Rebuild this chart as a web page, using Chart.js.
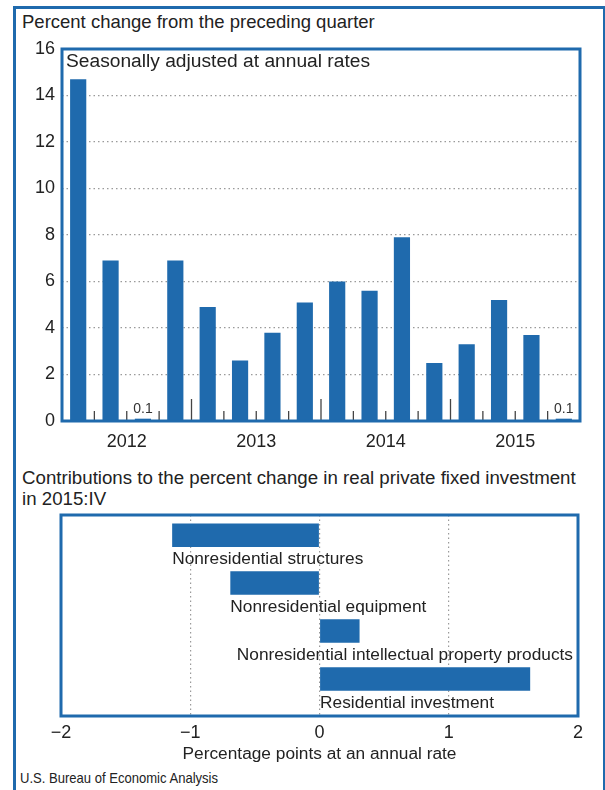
<!DOCTYPE html>
<html>
<head>
<meta charset="utf-8">
<script src="https://cdn.jsdelivr.net/npm/chart.js@4/dist/chart.umd.min.js"></script>
<style>
  html, body { margin: 0; padding: 0; background: #fff; }
  body { width: 605px; height: 790px; position: relative; overflow: hidden;
         font-family: "Liberation Sans", Arial, sans-serif; color: #222; }
  #frame { position: absolute; left: 13px; top: 6px; width: 587px; height: 800px;
           border: 3px solid #1f6aad; border-bottom: none; }
  .txt { position: absolute; white-space: nowrap; }
  #t1 { left: 22px; top: 11px; font-size: 18.5px; }
  #t2 { left: 22px; top: 467px; font-size: 18.7px; line-height: 21px; }
  #src { left: 20px; top: 769px; font-size: 15px; transform: scaleX(0.87); transform-origin: left top; }
  #c1 { position: absolute; left: 0; top: 0; }
  #c2 { position: absolute; left: 0; top: 460px; }
</style>
</head>
<body>
<div id="frame"></div>
<div class="txt" id="t1">Percent change from the preceding quarter</div>
<div class="txt" id="t2">Contributions to the percent change in real private fixed investment<br>in 2015:IV</div>
<div class="txt" id="src">U.S. Bureau of Economic Analysis</div>
<canvas id="c1" width="605" height="460"></canvas>
<canvas id="c2" width="605" height="330"></canvas>
<script>
// Percent change from preceding quarter, 2012:I - 2015:IV
const quarters = ['2012:I', '2012:II', '2012:III', '2012:IV',
                  '2013:I', '2013:II', '2013:III', '2013:IV',
                  '2014:I', '2014:II', '2014:III', '2014:IV',
                  '2015:I', '2015:II', '2015:III', '2015:IV'];
const pctChange = [14.7, 6.9, 0.1, 6.9, 4.9, 2.6, 3.8, 5.1, 6.0, 5.6, 7.9, 2.5, 3.3, 5.2, 3.7, 0.1];
const years = ['2012', '2013', '2014', '2015'];
const yTicks = [0, 2, 4, 6, 8, 10, 12, 14, 16];

// Contributions in 2015:IV
const components = ['Nonresidential structures', 'Nonresidential equipment',
                    'Nonresidential intellectual property products', 'Residential investment'];
const contributions = [-1.14, -0.69, 0.31, 1.63];
const xTicks = [-2, -1, 0, 1, 2];

const blue = '#1f6aad';
const gridColor = '#9a9a9a';
const textColor = '#222';
const dots = [1.5, 3];

// blue frame round the plot area
const framePlugin = {
    id: 'frame',
    afterDraw(chart) {
        const { ctx, chartArea: a } = chart;
        ctx.save();
        ctx.strokeStyle = blue;
        ctx.lineWidth = 3;
        ctx.strokeRect(a.left, a.top, a.right - a.left, a.bottom - a.top);
        ctx.restore();
    }
};

// small tick marks between quarters, longer between years
const quarterTicks = {
    id: 'quarterTicks',
    afterDatasetsDraw(chart) {
        const { ctx, chartArea: a } = chart;
        const x = chart.scales.x;
        ctx.save();
        ctx.strokeStyle = '#444';
        ctx.lineWidth = 1.3;
        for (let i = 1; i < quarters.length; i++) {
            const px = (x.getPixelForValue(i - 1) + x.getPixelForValue(i)) / 2;
            const len = i % 4 === 0 ? 22 : 10;
            ctx.beginPath();
            ctx.moveTo(px, a.bottom);
            ctx.lineTo(px, a.bottom - len);
            ctx.stroke();
        }
        // value labels for the very small bars
        const meta = chart.getDatasetMeta(0);
        ctx.fillStyle = '#333';
        ctx.font = '14px "Liberation Sans", Arial, sans-serif';
        ctx.textAlign = 'center';
        ctx.textBaseline = 'bottom';
        meta.data.forEach((bar, i) => {
            if (pctChange[i] < 1) {
                ctx.fillText(pctChange[i].toFixed(1), bar.x, bar.y - 3);
            }
        });
        // note inside the plot
        ctx.textAlign = 'left';
        ctx.textBaseline = 'middle';
        ctx.fillStyle = textColor;
        ctx.font = '19.2px "Liberation Sans", Arial, sans-serif';
        ctx.fillText('Seasonally adjusted at annual rates', a.left + 4, a.top + 13);
        ctx.restore();
    }
};

new Chart(document.getElementById('c1'), {
    type: 'bar',
    data: {
        labels: quarters,
        datasets: [{
            data: pctChange,
            backgroundColor: blue,
            borderWidth: 0,
            categoryPercentage: 1,
            barPercentage: 0.5
        }]
    },
    options: {
        responsive: false,
        animation: false,
        layout: { padding: { left: 0, right: 25, top: 49, bottom: 0 } },
        plugins: { legend: { display: false }, tooltip: { enabled: false } },
        scales: {
            x: { display: false },
            x2: {
                type: 'linear',
                position: 'bottom',
                offset: false,
                min: 0,
                max: quarters.length,
                afterBuildTicks: s => { s.ticks = years.map((y, i) => ({ value: i * 4 + 2 })); },
                afterFit: s => { s.height = 39; },
                grid: { display: false, offset: false },
                border: { display: false },
                ticks: {
                    padding: 2,
                    color: textColor,
                    font: { size: 18, family: '"Liberation Sans", Arial, sans-serif' },
                    callback: (v) => years[(v - 2) / 4]
                }
            },
            y: {
                min: 0,
                max: 16,
                afterBuildTicks: s => { s.ticks = yTicks.map(v => ({ value: v })); },
                afterFit: s => { s.width = 62; },
                border: { display: false, dash: dots },
                grid: {
                    color: ctx => (ctx.tick && (ctx.tick.value === 0 || ctx.tick.value === 16)) ? 'rgba(0,0,0,0)' : gridColor,
                    lineWidth: 1.2,
                    drawTicks: false
                },
                ticks: {
                    padding: 7,
                    color: textColor,
                    font: { size: 18, family: '"Liberation Sans", Arial, sans-serif' }
                }
            }
        }
    },
    plugins: [framePlugin, quarterTicks]
});

// labels written under each horizontal bar
const barLabels = {
    id: 'barLabels',
    afterDatasetsDraw(chart) {
        const { ctx, chartArea: a } = chart;
        const meta = chart.getDatasetMeta(0);
        ctx.save();
        ctx.fillStyle = textColor;
        ctx.font = '17.3px "Liberation Sans", Arial, sans-serif';
        ctx.textAlign = 'left';
        ctx.textBaseline = 'top';
        meta.data.forEach((bar, i) => {
            const left = Math.min(bar.x, bar.base);
            const w = ctx.measureText(components[i]).width;
            const tx = Math.min(left, a.right - 5 - w);
            ctx.fillText(components[i], tx, bar.y + bar.height / 2 + 4);
        });
        ctx.restore();
    }
};

new Chart(document.getElementById('c2'), {
    type: 'bar',
    data: {
        datasets: [{
            data: contributions.map((v, i) => ({ x: v, y: i })),
            backgroundColor: blue,
            borderWidth: 0,
            categoryPercentage: 1,
            barPercentage: 0.49
        }]
    },
    options: {
        indexAxis: 'y',
        responsive: false,
        animation: false,
        layout: { padding: { left: 61, right: 27, top: 55, bottom: 0 } },
        plugins: { legend: { display: false }, tooltip: { enabled: false } },
        scales: {
            y: {
                type: 'linear',
                display: false,
                offset: false,
                grid: { offset: false },
                reverse: true,
                min: -0.42,
                max: 3.77,
                afterBuildTicks: s => { s.ticks = components.map((c, i) => ({ value: i })); }
            },
            x: {
                type: 'linear',
                min: -2,
                max: 2,
                afterBuildTicks: s => { s.ticks = xTicks.map(v => ({ value: v })); },
                afterFit: s => { s.height = 74; },
                border: { display: false, dash: dots },
                grid: {
                    color: ctx => (ctx.tick && Math.abs(ctx.tick.value) === 2) ? 'rgba(0,0,0,0)' : gridColor,
                    lineWidth: 1.2,
                    drawTicks: false
                },
                ticks: {
                    padding: 6,
                    color: textColor,
                    font: { size: 18, family: '"Liberation Sans", Arial, sans-serif' },
                    callback: v => String(v).replace('-', '\u2212')
                },
                title: {
                    display: true,
                    text: 'Percentage points at an annual rate',
                    color: textColor,
                    font: { size: 17.3, family: '"Liberation Sans", Arial, sans-serif' },
                    padding: { top: 0, bottom: 25 }
                }
            }
        }
    },
    plugins: [framePlugin, barLabels]
});
</script>
</body>
</html>
